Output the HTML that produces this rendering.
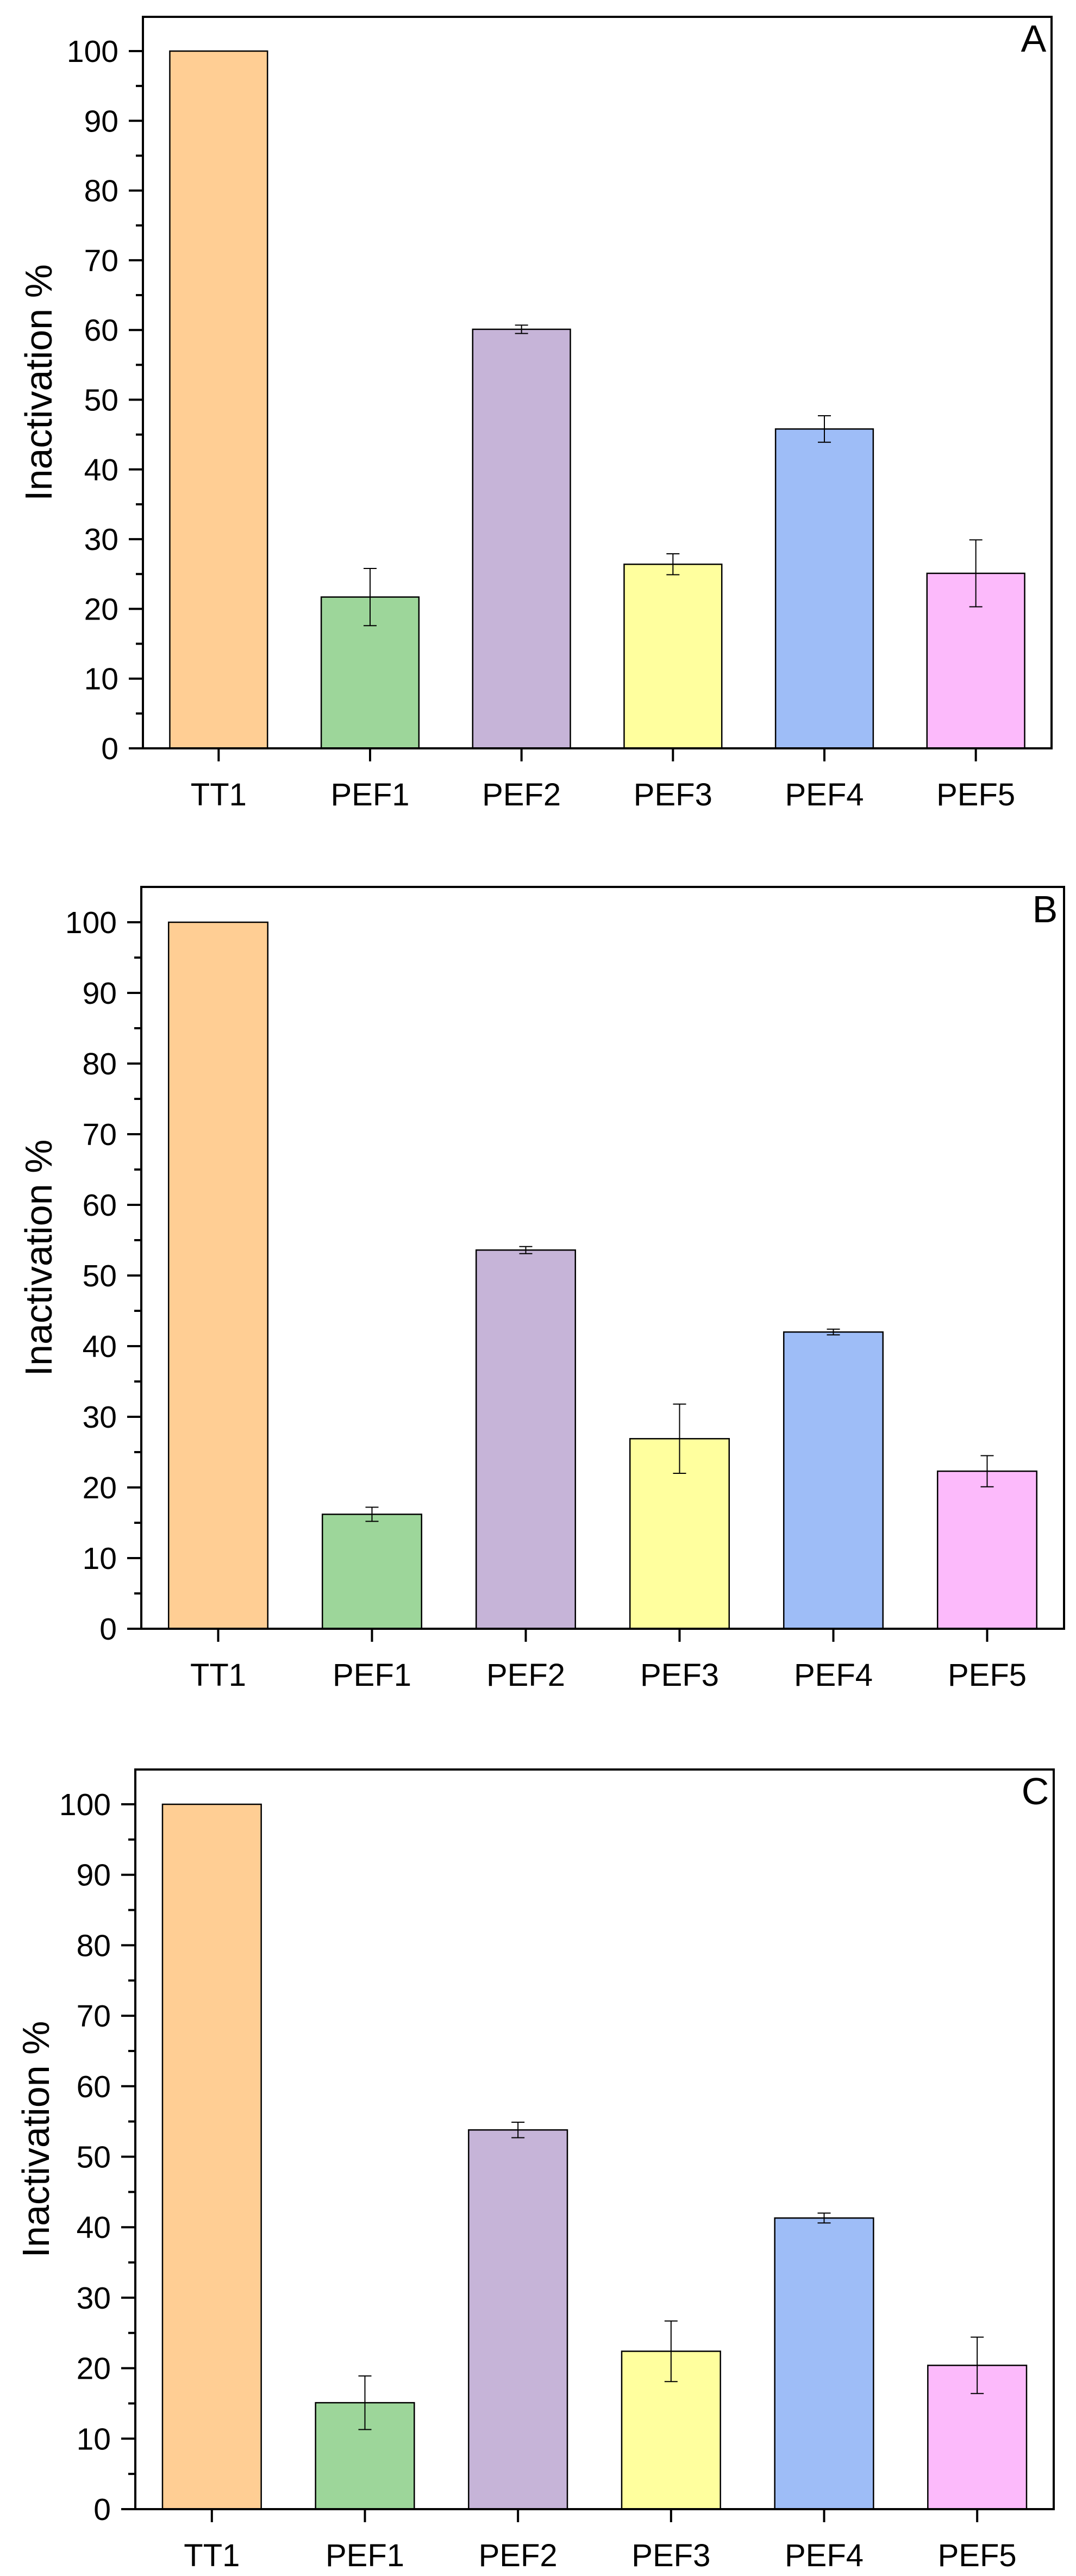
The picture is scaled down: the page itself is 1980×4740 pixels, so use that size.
<!DOCTYPE html>
<html><head><meta charset="utf-8"><style>
html,body{margin:0;padding:0;background:#fff;}
svg{display:block;font-family:"Liberation Sans",Arial,sans-serif;}
</style></head><body>
<svg id="chart" width="1980" height="4740" viewBox="0 0 1980 4740" xmlns="http://www.w3.org/2000/svg"></svg>
<script>
const categories = ["TT1","PEF1","PEF2","PEF3","PEF4","PEF5"];
const colors = ["#FFCE94","#9DD69A","#C6B4D8","#FFFF9E","#9EBDF7","#FCBAFB"];
const valuesA = [100, 21.7, 60.1, 26.4, 45.8, 25.1];
const errorsA = [0, 4.1, 0.6, 1.5, 1.9, 4.8];
const valuesB = [100, 16.2, 53.6, 26.9, 42.0, 22.3];
const errorsB = [0, 1.0, 0.5, 4.9, 0.4, 2.2];
const valuesC = [100, 15.1, 53.8, 22.4, 41.3, 20.4];
const errorsC = [0, 3.8, 1.1, 4.3, 0.7, 4.0];
const yTicks = [0,10,20,30,40,50,60,70,80,90,100];
const panelLabels = ["A","B","C"];

const NS = "http://www.w3.org/2000/svg";
const svg = document.getElementById("chart");
function mk(tag, attrs, parent){
  const e = document.createElementNS(NS, tag);
  for (const k in attrs) e.setAttribute(k, attrs[k]);
  (parent||svg).appendChild(e);
  return e;
}
const panels = [
  {left:263,right:1935,top:31,zero:1377,y100:94,vals:valuesA,errs:errorsA,lx:1902,ly:95,tx:95},
  {left:260,right:1958,top:1632,zero:2997,y100:1697,vals:valuesB,errs:errorsB,lx:1923,ly:1697,tx:95},
  {left:249,right:1939,top:3256,zero:4617,y100:3320,vals:valuesC,errs:errorsC,lx:1905,ly:3320,tx:90}
];
panels.forEach((p, pi) => {
  const g = mk("g", {});
  
  
  const yScale = v => p.zero - (p.zero - p.y100) * v / 100;
  const cw = (p.right - p.left) / categories.length;
  const xScale = i => p.left + cw * (i + 0.5);
  const bw = cw * 0.645;
  p.vals.forEach((v, i) => {
    const r = mk("rect", {x:xScale(i)-bw/2, y:yScale(v), width:bw, height:p.zero-yScale(v), fill:colors[i], stroke:"#000", "stroke-width":2.5}, g);
    
    
    const e = p.errs[i];
    if (e > 0) {
      const eg = mk("g", {stroke:"#000","stroke-width":2}, g);
      
      
      const cx = xScale(i), y1 = yScale(v+e), y2 = yScale(v-e);
      mk("line", {x1:cx, x2:cx, y1:y1, y2:y2}, eg);
      mk("line", {x1:cx-12, x2:cx+12, y1:y1, y2:y1}, eg);
      mk("line", {x1:cx-12, x2:cx+12, y1:y2, y2:y2}, eg);
    }
  });
  const f = mk("rect", {x:p.left, y:p.top, width:p.right-p.left, height:p.zero-p.top, fill:"none", stroke:"#000", "stroke-width":4}, g);
  
  
  const ya = mk("g", {}, g);
  
  
  yTicks.forEach(t => {
    const y = yScale(t);
    mk("line", {x1:p.left-26, x2:p.left, y1:y, y2:y, stroke:"#000","stroke-width":4}, ya);
    const tx = mk("text", {x:p.left-45, y:y+20, "font-size":57, "text-anchor":"end", fill:"#000"}, ya);
    tx.textContent = t;
    if (t < 100) {
      const ym = yScale(t+5);
      mk("line", {x1:p.left-13, x2:p.left, y1:ym, y2:ym, stroke:"#000","stroke-width":4}, ya);
    }
  });
  const xa = mk("g", {}, g);
  
  
  categories.forEach((c, i) => {
    const x = xScale(i);
    mk("line", {x1:x, x2:x, y1:p.zero, y2:p.zero+24, stroke:"#000","stroke-width":4}, xa);
    const tx = mk("text", {x:x, y:p.zero+105, "font-size":58, "text-anchor":"middle", fill:"#000"}, xa);
    tx.textContent = c;
  });
  const cy = (p.top + p.zero) / 2;
  const yt = mk("text", {x:p.tx, y:cy, "font-size":70, "text-anchor":"middle", fill:"#000", transform:"rotate(-90 "+p.tx+" "+cy+")"}, g);
  
  
  yt.textContent = "Inactivation %";
  const pl = mk("text", {x:p.lx, y:p.ly, "font-size":70, "text-anchor":"middle", fill:"#000"}, g);
  
  
  pl.textContent = panelLabels[pi];
});
</script>
</body></html>
